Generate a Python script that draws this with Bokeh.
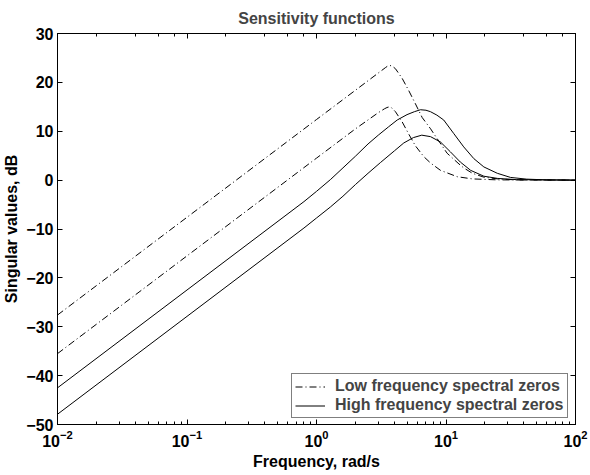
from bokeh.plotting import figure
from bokeh.models import (LogAxis, LinearAxis, Legend, LegendItem, FixedTicker,
                          CustomJSTickFormatter, Range1d, LogTicker)
from bokeh.embed import file_html
from bokeh.resources import INLINE

# ---- data ----
freq_low1 = [0.01, 1.0, 2.0, 3.1, 3.4, 3.55, 3.7, 3.85, 4.07, 4.59, 5.16, 5.81, 6.55, 7.6, 8.05, 10.2, 12.6, 13.7, 16.0, 19.6, 25.0, 35.0, 100.0]
db_low1 = [-27.6, 12.4, 18.4, 22.2, 23.0, 23.35, 23.45, 23.3, 22.8, 20.8, 18.3, 15.6, 12.8, 10.5, 9.5, 5.5, 3.3, 2.5, 1.4, 0.6, 0.25, 0.05, 0.0]

freq_low2 = [0.01, 1.0, 2.0, 3.0, 3.35, 3.5, 3.65, 3.8, 4.07, 4.59, 5.16, 5.81, 6.74, 7.6, 9.07, 12.2, 16.0, 25.0, 100.0]
db_low2 = [-35.5, 4.5, 10.5, 13.8, 14.6, 14.85, 15.0, 14.8, 14.0, 11.9, 9.4, 7.0, 4.8, 3.5, 2.0, 0.7, 0.25, 0.05, 0.0]

freq_high1 = [0.01, 0.8, 1.0, 1.28, 1.6, 2.0, 2.5, 3.0, 3.6, 4.2, 5.0, 5.7, 6.35, 7.0, 7.59, 8.5, 9.6, 11.5, 13.7, 16.4, 19.6, 24.9, 31.5, 42.0, 60.0, 100.0]
db_high1 = [-42.5, -4.4, -2.3, 0.1, 2.5, 4.9, 7.4, 9.2, 10.9, 12.3, 13.4, 14.0, 14.4, 14.3, 14.0, 13.3, 12.3, 9.5, 6.8, 4.4, 2.7, 1.4, 0.55, 0.2, 0.05, 0.0]

freq_high2 = [0.01, 0.8, 1.0, 1.28, 1.6, 2.0, 2.5, 3.12, 4.0, 4.72, 5.6, 6.5, 7.59, 9.07, 10.8, 12.9, 15.5, 19.6, 25.0, 35.0, 100.0]
db_high2 = [-47.9, -9.8, -7.75, -5.5, -3.3, -0.9, 1.4, 3.6, 6.0, 7.6, 8.7, 9.2, 8.9, 7.8, 5.8, 3.7, 2.0, 0.8, 0.35, 0.1, 0.0]

y_ticks = [-50, -40, -30, -20, -10, 0, 10, 20, 30]
legend_labels = ["Low frequency spectral zeros", "High frequency spectral zeros"]
title_text = "Sensitivity functions"
x_label = "Frequency, rad/s"
y_label = "Singular values, dB"

FONT = "Liberation Sans"
FS = "16px"

p = figure(width=590, height=475, x_axis_type="log",
           x_range=Range1d(0.01, 100), y_range=Range1d(-50, 30),
           output_backend="svg", toolbar_location=None, title=title_text,
           min_border_left=57, min_border_right=15, min_border_top=33,
           min_border_bottom=51)
p.background_fill_color = "white"
p.border_fill_color = "white"
p.outline_line_color = "black"
p.outline_line_width = 1
p.xgrid.visible = False
p.ygrid.visible = False

p.title.text_font = FONT
p.title.text_font_style = "bold"
p.title.text_font_size = FS
p.title.align = "center"
p.title.standoff = 10
p.title.vertical_align = "top"
p.title.text_line_height = 1.0

DASHDOT = "7 3 1 3"
r1 = p.line(freq_low1, db_low1, line_color="black", line_width=1, line_dash=DASHDOT)
r2 = p.line(freq_low2, db_low2, line_color="black", line_width=1, line_dash=DASHDOT)
r3 = p.line(freq_high1, db_high1, line_color="black", line_width=1)
r4 = p.line(freq_high2, db_high2, line_color="black", line_width=1)

def style_axis(ax):
    ax.axis_line_color = "black"
    ax.major_tick_in = 5
    ax.major_tick_out = 0
    ax.minor_tick_in = 3
    ax.minor_tick_out = 0
    ax.major_tick_line_color = "black"
    ax.minor_tick_line_color = "black"
    ax.major_label_text_font = FONT
    ax.major_label_text_font_style = "bold"
    ax.major_label_text_font_size = FS
    ax.major_label_text_color = "black"
    ax.axis_label_text_font = FONT
    ax.axis_label_text_font_style = "bold"
    ax.axis_label_text_font_size = FS
    ax.axis_label_text_color = "black"

xa = p.xaxis[0]
style_axis(xa)
xa.axis_label = x_label
xa.major_label_standoff = 5
xa.axis_label_standoff = 3

ya = p.yaxis[0]
style_axis(ya)
ya.ticker = FixedTicker(ticks=y_ticks)
ya.minor_tick_line_color = None
ya.axis_label = y_label
ya.major_label_standoff = 4
ya.axis_label_standoff = 3

blank = CustomJSTickFormatter(code="return '';")
top = LogAxis(ticker=LogTicker(), formatter=blank)
style_axis(top)
top.major_label_standoff = 0
p.add_layout(top, "above")

right = LinearAxis(ticker=FixedTicker(ticks=y_ticks), formatter=blank)
style_axis(right)
right.minor_tick_line_color = None
right.major_label_standoff = 0
p.add_layout(right, "right")

legend = Legend(items=[LegendItem(label=legend_labels[0], renderers=[r1]),
                       LegendItem(label=legend_labels[1], renderers=[r3])],
                location=(234, 6))
legend.border_line_color = "black"
legend.border_line_width = 1
legend.background_fill_color = "white"
legend.background_fill_alpha = 1
legend.label_text_font = FONT
legend.label_text_font_style = "bold"
legend.label_text_font_size = FS
legend.label_height = 17
legend.glyph_height = 17
legend.glyph_width = 30
legend.label_standoff = 10
legend.padding = 3
legend.spacing = 1
legend.margin = 0
p.add_layout(legend, "center")

open("out.html", "w").write(file_html(p, INLINE))
